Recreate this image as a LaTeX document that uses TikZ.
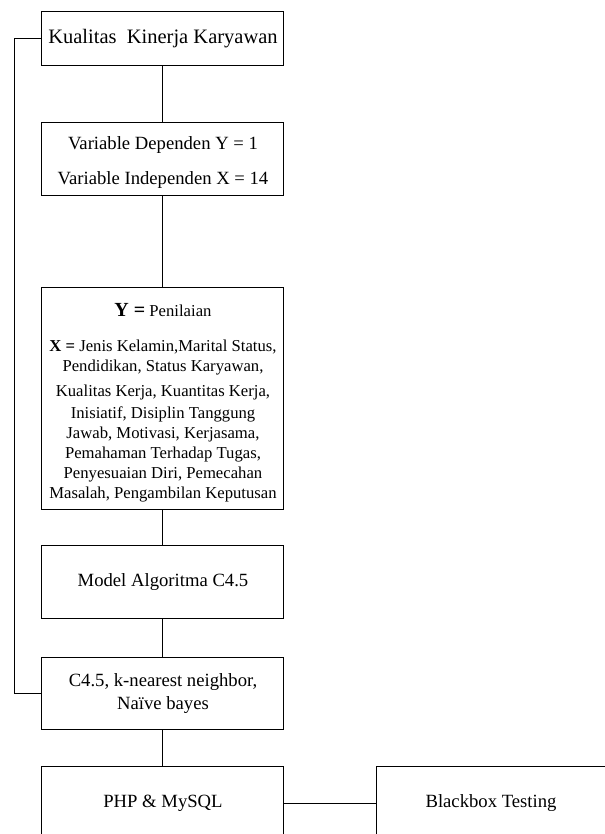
\documentclass[tikz,border=0pt]{standalone}
\usepackage{fontspec}
\setmainfont{Liberation Serif}

\begin{document}
\begin{tikzpicture}[
    box/.style={draw, rectangle, line width=0.6pt, minimum width=5.103cm, minimum height=1.539cm, align=center, font=\fontsize{11.2}{13.4}\selectfont},
    line/.style={line width=0.6pt}
]
\useasboundingbox (0,0) rectangle (12.758,-17.587);
\clip (0,0) rectangle (12.758,-17.587);

% Main column
\node[box, minimum height=1.139cm, font=\fontsize{12.3}{14.8}\selectfont] (kualitas) at (3.437,-0.822) {Kualitas\ \ Kinerja Karyawan};
\node[box, minimum height=1.560cm] (variabel) at (3.437,-3.353) {\rule{0pt}{12pt}Variable Dependen Y = 1\\[7.8pt] Variable Independen X = 14};
\node[box, minimum height=4.681cm, font=\fontsize{10}{12}\selectfont] (atribut) at (3.437,-8.393) {\rule{0pt}{13.5pt}{\fontsize{12}{12}\selectfont\bfseries Y =} Penilaian\\[9pt]
    {\bfseries X =} Jenis Kelamin,Marital Status,\\ Pendidikan, Status Karyawan,\\[3pt]
    Kualitas Kerja, Kuantitas Kerja,\\[1.2pt] Inisiatif, Disiplin Tanggung\\ Jawab, Motivasi, Kerjasama,\\
    Pemahaman Terhadap Tugas,\\ Penyesuaian Diri, Pemecahan\\ Masalah, Pengambilan Keputusan};
\node[box] (model) at (3.437,-12.283) {Model Algoritma C4.5};
\node[box] (metode) at (3.437,-14.624) {C4.5, k-nearest neighbor,\\ Naïve bayes};
\node[box] (php) at (3.437,-16.943) {PHP \& MySQL};

% Testing
\node[box, minimum width=4.850cm] (blackbox) at (10.354,-16.943) {Blackbox Testing};

% Connectors
\coordinate (umpan) at (0.302,0);
\draw [line] (kualitas) -- (variabel);
\draw [line] (variabel) -- (atribut);
\draw [line] (atribut) -- (model);
\draw [line] (model) -- (metode);
\draw [line] (metode) -- (php);
\draw [line] (php) -- (blackbox);
\draw [line] (metode.west) -- (metode.west -| umpan) |- (kualitas.west);

\end{tikzpicture}
\end{document}
